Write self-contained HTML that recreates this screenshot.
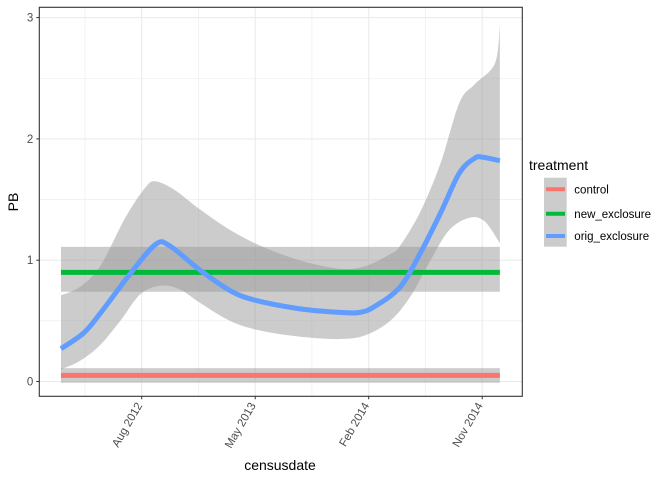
<!DOCTYPE html>
<html><head><meta charset="utf-8"><style>
body{margin:0;background:#fff;}
svg{display:block;font-family:"Liberation Sans",Arial,sans-serif;}
</style></head><body>
<svg id="chart" width="672" height="480">
<rect width="672" height="480" fill="#fff"/>
<g id="grid"></g><g id="marks"></g><g id="axes"></g>
<g>
<text x="529" y="170" font-size="14" fill="#000">treatment</text>
<rect x="544" y="177.7" width="22.7" height="69" fill="#cccccc"/>
<line x1="546" x2="565" y1="189.3" y2="189.3" stroke="#F8766D" stroke-width="4"/>
<line x1="546" x2="565" y1="213.7" y2="213.7" stroke="#00BA38" stroke-width="4"/>
<line x1="546" x2="565" y1="236" y2="236" stroke="#619CFF" stroke-width="4"/>
<text x="574.3" y="193.5" font-size="11.5" fill="#000">control</text>
<text x="574.3" y="217.9" font-size="11.5" fill="#000">new_exclosure</text>
<text x="574.3" y="240.2" font-size="11.5" fill="#000">orig_exclosure</text>
</g>
<text x="280" y="470" font-size="14" text-anchor="middle" fill="#000">censusdate</text>
<text transform="translate(18,202) rotate(-90)" font-size="14" text-anchor="middle" fill="#000">PB</text>
</svg>
<script>
// months relative to Aug 2012
const xTickLabels=["Aug 2012","May 2013","Feb 2014","Nov 2014"];
const xTickMonths=[0,9,18,27];
const yTicks=[0,1,2,3];
const xStart=-6.4, xEnd=28.4;
const controlMean=[0.051], controlLo=[-0.01], controlHi=[0.11];
const newMean=[0.90], newLo=[0.74], newHi=[1.11];
const origX=[-6.4,-4.6,-3.3,-0.9,1.1,2.2,4.6,7.0,9.0,12.5,15.7,17.3,18.5,20.5,22.1,23.7,25.2,26.4,27.0,28.4];
const origY=[0.27,0.40,0.56,0.89,1.13,1.12,0.92,0.75,0.67,0.60,0.57,0.57,0.62,0.78,1.06,1.39,1.72,1.84,1.85,1.82];
const hiX=[-6.4,-4.9,-3.3,-1.3,0.3,1.1,2.6,4.6,7.0,9.4,12.5,15.7,17.7,19.7,20.5,22.1,23.7,25.2,26.4,28.0,28.4];
const hiY=[0.71,0.78,0.95,1.35,1.60,1.65,1.58,1.42,1.25,1.12,1.00,0.93,0.95,1.05,1.12,1.40,1.80,2.30,2.45,2.62,2.93];
const loX=[-6.4,-4.9,-3.3,-1.7,-0.1,1.5,3.0,4.6,7.0,9.4,12.5,15.7,17.7,19.7,21.3,22.9,24.4,26.0,27.2,28.4];
const loY=[0.10,0.17,0.30,0.50,0.72,0.79,0.76,0.65,0.50,0.42,0.37,0.35,0.38,0.50,0.70,1.00,1.25,1.35,1.32,1.14];
const L=39.3,R=522.3,T=7.3,B=396.3;
const sx=m=>141.7+m*12.611;
const sy=v=>381.5-v*121.3;
const NS="http://www.w3.org/2000/svg";
function mk(tag,attrs,parent){const e=document.createElementNS(NS,tag);for(const k in attrs)e.setAttribute(k,attrs[k]);parent.appendChild(e);return e;}
const grid=document.getElementById('grid'),marks=document.getElementById('marks'),axes=document.getElementById('axes');
for(let i=0;i<yTicks.length-1;i++){const y=sy((yTicks[i]+yTicks[i+1])/2);mk('line',{x1:L,x2:R,y1:y,y2:y,stroke:'#ebebeb','stroke-width':0.6},grid);}
const xm=[xTickMonths[0]-4.5].concat(xTickMonths.slice(0,-1).map((m,i)=>(m+xTickMonths[i+1])/2));
xm.forEach(m=>{const x=sx(m);mk('line',{x1:x,x2:x,y1:T,y2:B,stroke:'#ebebeb','stroke-width':0.6},grid);});
yTicks.forEach(v=>{const y=sy(v);mk('line',{x1:L,x2:R,y1:y,y2:y,stroke:'#ebebeb','stroke-width':1.1},grid);});
xTickMonths.forEach(m=>{const x=sx(m);mk('line',{x1:x,x2:x,y1:T,y2:B,stroke:'#ebebeb','stroke-width':1.1},grid);});
function flat(mean,lo,hi,col,name){
 const r=mk('rect',{x:sx(xStart),y:sy(hi[0]),width:sx(xEnd)-sx(xStart),height:sy(lo[0])-sy(hi[0]),fill:'#999','fill-opacity':0.5},marks);
 
 
 const l=mk('line',{x1:sx(xStart),x2:sx(xEnd),y1:sy(mean[0]),y2:sy(mean[0]),stroke:col,'stroke-width':5},marks);
 
 
}
function segs(xs,ys,rev){let p=xs.map((x,i)=>[sx(x),sy(ys[i])]);if(rev)p=p.reverse();let s='';for(let i=0;i<p.length-1;i++){const p0=p[i-1]||p[i],p1=p[i],p2=p[i+1],p3=p[i+2]||p2;s+='C'+(p1[0]+(p2[0]-p0[0])/6)+','+(p1[1]+(p2[1]-p0[1])/6)+' '+(p2[0]-(p3[0]-p1[0])/6)+','+(p2[1]-(p3[1]-p1[1])/6)+' '+p2[0]+','+p2[1];}return {start:p[0],s:s};}
const h=segs(hiX,hiY,false),lo=segs(loX,loY,true);
const d='M'+h.start+h.s+'L'+lo.start+lo.s+'Z';
const rib=mk('path',{d:d,fill:'#999','fill-opacity':0.5},marks);


flat(controlMean,controlLo,controlHi,'#F8766D','control');
flat(newMean,newLo,newHi,'#00BA38','new-exclosure');
const o=segs(origX,origY,false);
const ol=mk('path',{d:'M'+o.start+o.s,fill:'none',stroke:'#619CFF','stroke-width':5},marks);


mk('rect',{x:L,y:T,width:R-L,height:B-T,fill:'none',stroke:'#333','stroke-width':1.1},axes);
yTicks.forEach(v=>{const y=sy(v);mk('line',{x1:L-3,x2:L,y1:y,y2:y,stroke:'#333'},axes);
 const t=mk('text',{x:L-6,y:y+4,'font-size':11.5,'text-anchor':'end',fill:'#4d4d4d'},axes);t.textContent=v;
 
 });
xTickMonths.forEach((m,i)=>{const x=sx(m);mk('line',{x1:x,x2:x,y1:B,y2:B+3,stroke:'#333'},axes);
 const t=mk('text',{transform:'translate('+(x+1)+','+(B+9)+') rotate(-60)','font-size':11.5,'text-anchor':'end',fill:'#4d4d4d'},axes);t.textContent=xTickLabels[i];
 
 });
</script>
</body></html>
